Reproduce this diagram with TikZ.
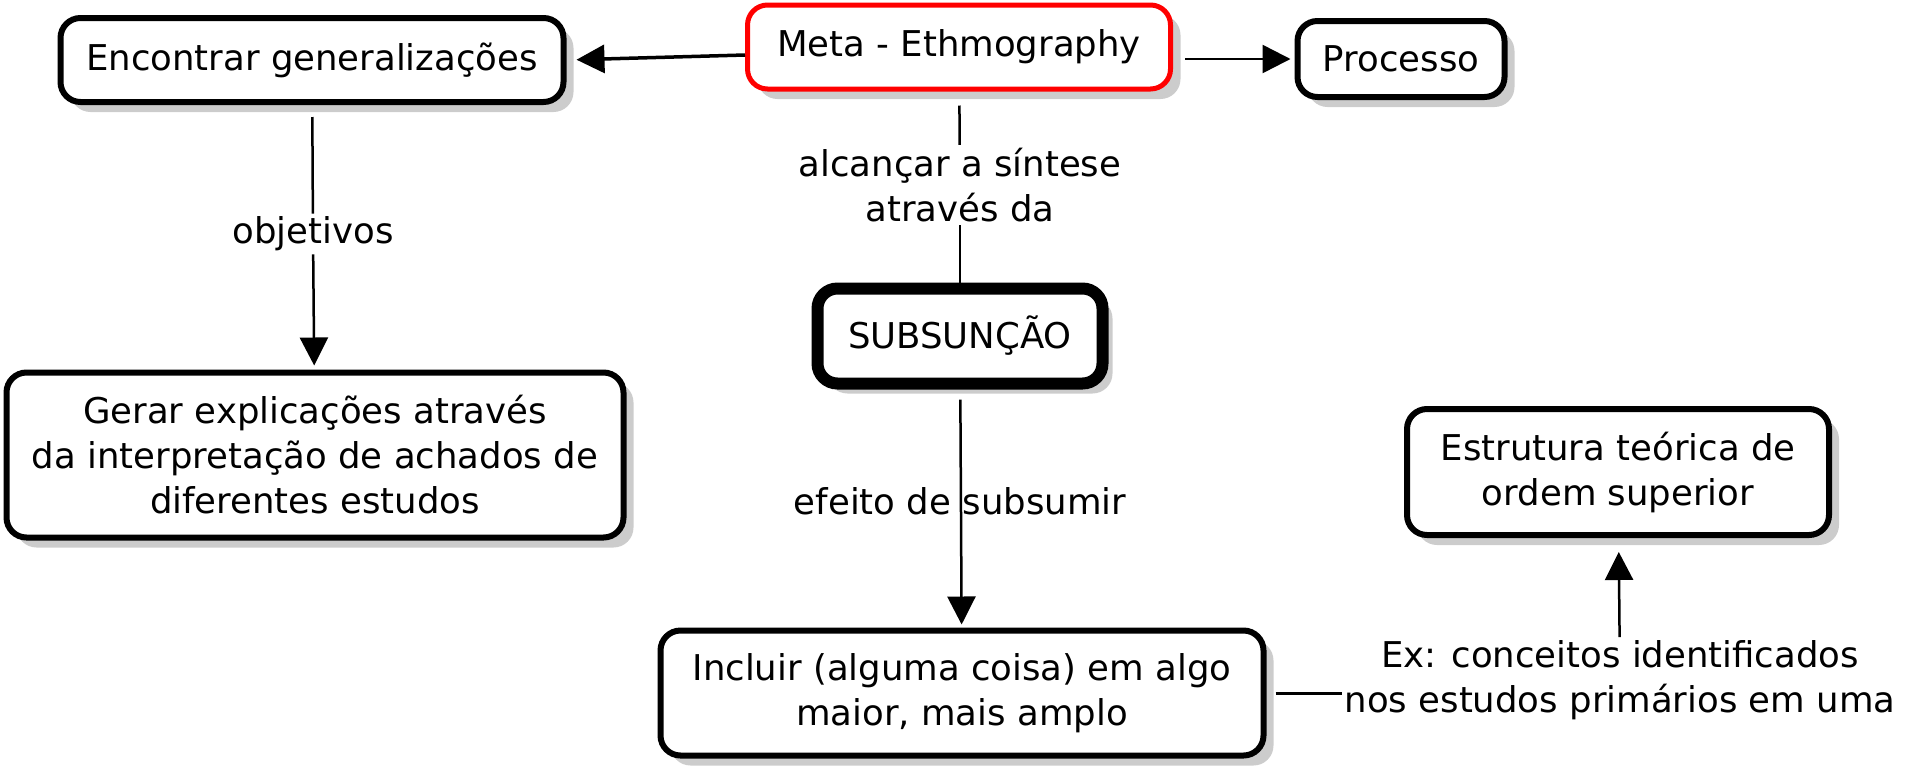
\documentclass[tikz,border=0pt]{standalone}
\usepackage{fontspec}
\setmainfont{DejaVu Sans}
\usetikzlibrary{shadows,arrows.meta}
\begin{document}
\begin{tikzpicture}[x=1pt,y=1pt,
  txt/.style={font=\fontsize{35.5}{45}\selectfont},
  box/.style={txt, draw=black, line width=6pt, rounded corners=20pt, fill=white, align=center, inner sep=0pt,
    drop shadow={shadow xshift=10pt, shadow yshift=-10pt, fill=black!20, opacity=1}},
  lbl/.style={txt, align=center, inner sep=3pt},
  conn/.style={line width=2.5pt},
  arr/.style={conn, -{Triangle[length=28pt,width=28pt]}}]
\useasboundingbox (0,0) rectangle (1910,-780);
% nodes
\node[box, minimum width=503, minimum height=84] (enc) at (312,-60) {Encontrar generalizações};
\node[box, draw=red, line width=5pt, minimum width=423, minimum height=84] (meta) at (959,-47) {Meta - Ethmography};
\node[box, minimum width=207, minimum height=76] (proc) at (1401,-59) {Processo};
\node[box, line width=12pt, minimum width=285, minimum height=95] (sub) at (960,-336) {SUBSUNÇÃO};
\node[box, minimum width=617, minimum height=165] (gerar) at (315,-455) {Gerar explicações através\\da interpretação de achados de\\diferentes estudos};
\node[box, minimum width=422, minimum height=126] (estr) at (1618,-472) {Estrutura teórica de\\ordem superior};
\node[box, minimum width=603, minimum height=125] (inc) at (962,-693) {Incluir (alguma coisa) em algo\\maior, mais amplo};
% labels
\node[lbl] (alc) at (960,-185) {alcançar a síntese\\através da};
\node[lbl] (obj) at (313,-234) {objetivos};
\node[lbl] (efe) at (960,-501) {efeito de subsumir};
\node[lbl] (ex) at (1620,-680) {Ex: conceitos identificados\\nos estudos primários em uma};
% connectors
\draw[arr, line width=3.5pt, shorten >=10pt] ([yshift=-8pt]meta.west) -- (enc.east);
\draw[arr, shorten <=12pt, shorten >=4pt] (meta.east |- proc.west) -- (proc.west);
\draw[conn, shorten <=12pt] (enc) -- (obj);
\draw[arr, shorten >=4pt] (obj) -- (gerar);
\draw[conn, shorten <=14pt] (meta) -- (alc);
\draw[conn] (alc) -- (sub);
\draw[arr, shorten <=10pt, shorten >=3pt] (sub) -- (inc);
\draw[conn, line width=3pt, shorten <=9pt] (inc.east) -- (inc.east -| ex.west);
\draw[arr, shorten >=14pt] (ex) -- (estr);
\end{tikzpicture}
\end{document}
